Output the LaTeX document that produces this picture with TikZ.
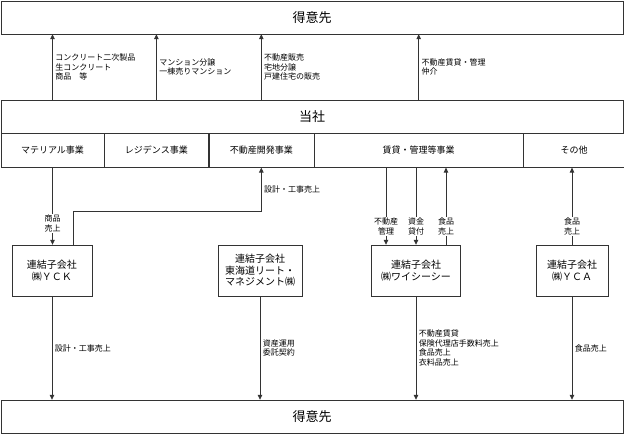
\documentclass[tikz,border=0pt]{standalone}
\usepackage{fontspec}
\setmainfont{Noto Sans CJK JP}
\usetikzlibrary{positioning, arrows.meta}

\begin{document}
\begin{tikzpicture}[
    x=1pt, y=-1pt,
    every node/.style={align=center},
    block_wide/.style={
        rectangle,
        draw=black!80,
        minimum width=622pt,
        minimum height=33pt,
        inner sep=0pt,
        font=\fontsize{13}{15}\selectfont
    },
    block_segment/.style={
        rectangle,
        draw=black!80,
        minimum height=34pt,
        inner sep=0pt,
        font=\fontsize{9}{11}\selectfont
    },
    block_sub/.style={
        rectangle,
        draw=black!80,
        minimum height=51pt,
        inner sep=0pt,
        font=\fontsize{10}{11.5}\selectfont
    },
    label_text/.style={font=\fontsize{8}{9.8}\selectfont, align=left, inner sep=2.5pt},
    label_cut/.style={font=\fontsize{8}{9.8}\selectfont, fill=white, inner sep=1pt},
    arrow/.style = {draw=black!80, line width=0.8pt, -{Triangle[length=5pt, width=4.5pt]}}
]
    \useasboundingbox (0,0) rectangle (624,435);

    % ノード
    \node [block_wide] (customer_top) at (312,17.5) {得意先};
    \node [block_wide] (company) at (312,116.5) {当社};

    \node [block_segment, minimum width=103pt, anchor=north west] (material) at (company.south west) {マテリアル事業};
    \node [block_segment, minimum width=104pt, right=0pt of material] (residence) {レジデンス事業};
    \node [block_segment, minimum width=105pt, right=0pt of residence] (development) {不動産開発事業};
    \node [block_segment, minimum width=209pt, right=0pt of development] (rental) {賃貸・管理等事業};
    \node [block_segment, minimum width=101pt, right=0pt of rental] (other) {その他};

    \node [block_sub, minimum width=80pt] (yck) at (52,270.5) {連結子会社\\㈱ＹＣＫ};
    \node [block_sub, minimum width=84pt] (tokai) at (260,270.5) {連結子会社\\東海道リート・\\マネジメント㈱};
    \node [block_sub, minimum width=89pt] (wysee) at (416,270.5) {連結子会社\\㈱ワイシーシー};
    \node [block_sub, minimum width=72pt] (yca) at (572,270.5) {連結子会社\\㈱ＹＣＡ};

    \node [block_wide] (customer_bottom) at (312,416.5) {得意先};

    % 当社から得意先へ
    \draw [arrow] (material.north |- company.north) -- node[label_text, right] {コンクリート二次製品\\生コンクリート\\商品　等} (material.north |- customer_top.south);
    \draw [arrow] (residence.north |- company.north) -- node[label_text, right] {マンション分譲\\一棟売りマンション} (residence.north |- customer_top.south);
    \draw [arrow] (development.north |- company.north) -- node[label_text, right] {不動産販売\\宅地分譲\\戸建住宅の販売} (development.north |- customer_top.south);
    \draw [arrow] (rental.north |- company.north) -- node[label_text, right] {不動産賃貸・管理\\仲介} (rental.north |- customer_top.south);

    % 当社と子会社
    \draw [arrow] (material.south) -- node[label_cut, pos=0.72] {商品\\売上} (yck.north -| material.south);
    \draw [arrow] ([xshift=21pt]yck.north) -- ++(0,-33) -| node[label_text, pos=0.75, right] {設計・工事売上} (development.south);
    \draw [arrow] ([xshift=-30pt]wysee.north |- rental.south) -- node[label_cut, pos=0.76] {不動産\\管理} ([xshift=-30pt]wysee.north);
    \draw [arrow] (wysee.north |- rental.south) -- node[label_cut, pos=0.76] {資金\\貸付} (wysee.north);
    \draw [arrow] ([xshift=30pt]wysee.north) -- node[label_cut, pos=0.24] {食品\\売上} ([xshift=30pt]wysee.north |- rental.south);
    \draw [arrow] (yca.north) -- node[label_cut, pos=0.24] {食品\\売上} (yca.north |- other.south);

    % 子会社から得意先へ
    \draw [arrow] (yck.south) -- node[label_text, right] {設計・工事売上} (yck.south |- customer_bottom.north);
    \draw [arrow] (tokai.south) -- node[label_text, right] {資産運用\\委託契約} (tokai.south |- customer_bottom.north);
    \draw [arrow] (wysee.south) -- node[label_text, right] {不動産賃貸\\保険代理店手数料売上\\食品売上\\衣料品売上} (wysee.south |- customer_bottom.north);
    \draw [arrow] (yca.south) -- node[label_text, right] {食品売上} (yca.south |- customer_bottom.north);
\end{tikzpicture}
\end{document}
